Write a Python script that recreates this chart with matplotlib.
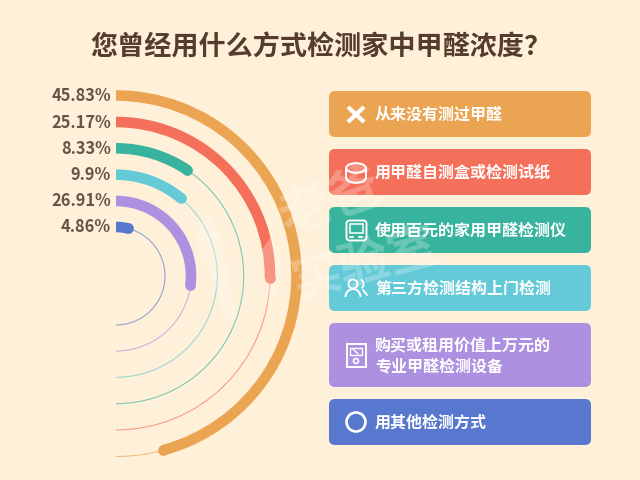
import numpy as np
import matplotlib
matplotlib.use('Agg')
import matplotlib.pyplot as plt
from matplotlib.patches import FancyBboxPatch, Circle, Rectangle, Ellipse, Arc, Polygon

plt.rcParams['font.family'] = ['Noto Sans CJK SC', 'DejaVu Sans']

title = '您曾经用什么方式检测家中甲醛浓度？'
labels = ['45.83%', '25.17%', '8.33%', '9.9%', '26.91%', '4.86%']
# sweep of each thick arc in degrees
sweeps = [165, 90.6, 34, 40, 97, 14]
radii = [180.5, 154, 127.7, 101.3, 75, 49]
colors = ['#eba452', '#f4705a', '#38b49e', '#65cad8', '#ae90e0', '#5878cf']
options = ['从来没有测过甲醛', '用甲醛自测盒或检测试纸', '使用百元的家用甲醛检测仪',
           '第三方检测结构上门检测', '购买或租用价值上万元的\n专业甲醛检测设备', '用其他检测方式']
card_top = [91, 149, 207, 265, 323, 399]
card_bot = [137, 195, 253, 311, 387, 445]

bg = '#fff0d9'
brown = '#6b5344'
W, H = 640, 480
cx, cy = 116, 276
rmax = 200

fig = plt.figure(figsize=(6.4, 4.8), dpi=100, facecolor=bg)

# polar axes centred on the rings, 1 data unit = 1 pixel
ax = fig.add_axes([(cx - rmax) / W, (H - cy - rmax) / H, 2 * rmax / W, 2 * rmax / H],
                  projection='polar', clip_on=False)
ax.set_theta_zero_location('N')
ax.set_theta_direction(-1)
ax.set_ylim(0, rmax)
ax.axis('off')
ax.patch.set_alpha(0)

for s, r, c in zip(sweeps, radii, colors):
    end = np.radians(s)
    ax.bar(end, 1.1, width=np.pi - end, bottom=r - 0.55, align='edge', color=c, alpha=0.65,
           linewidth=0, clip_on=False)
    ax.bar(0, 10.6, width=end, bottom=r - 5.3, align='edge', color=c, linewidth=0, clip_on=False)
    ax.scatter([end], [r], s=60, color=c, linewidths=0, clip_on=False, zorder=3)

# page overlay in pixel coords
ov = fig.add_axes([0, 0, 1, 1])
ov.set_xlim(0, W)
ov.set_ylim(H, 0)
ov.axis('off')
ov.patch.set_alpha(0)

ov.text(321, 47, title, ha='center', va='center', fontsize=19.5, fontweight='bold', color='#553c2b')

for lab, r in zip(labels, radii):
    ov.text(111, cy - r + 0.5, lab, ha='right', va='center', fontsize=11.8, fontweight='bold', color=brown)

for opt, t, b, c in zip(options, card_top, card_bot, colors):
    ov.add_patch(FancyBboxPatch((329 + 6, t + 6), 262 - 12, b - t - 12, boxstyle='round,pad=6,rounding_size=6',
                                facecolor=c, edgecolor='none'))
    ov.text(375, (t + b) / 2 + 0.5, opt, ha='left', va='center', fontsize=11.5, fontweight='bold',
            color='white', linespacing=1.42)

# icons
white = dict(color='white', lw=1.4, solid_capstyle='round')
ov.plot([348, 364], [107, 122], color='white', lw=3, solid_capstyle='butt')
ov.plot([348, 364], [122, 107], color='white', lw=3, solid_capstyle='butt')

ov.add_patch(Ellipse((356, 168), 19.5, 9.5, fill=False, ec='white', lw=1.5))
ov.add_patch(Arc((356, 178), 19.5, 9.5, theta1=0, theta2=180, ec='white', lw=1.5))
ov.plot([346.2, 346.2], [168, 178], **white)
ov.plot([365.8, 365.8], [168, 178], **white)

ov.add_patch(FancyBboxPatch((349, 223), 15, 15, boxstyle='round,pad=2.5,rounding_size=3', fill=False, ec='white', lw=1.4))
ov.add_patch(Rectangle((350, 224), 12.5, 9, fill=False, ec='white', lw=1.1))
ov.plot([350, 353], [236.5, 236.5], **white)
ov.plot([359, 362], [236.5, 236.5], **white)

ov.add_patch(Circle((353, 284), 4.5, fill=False, ec='white', lw=1.4))
ov.add_patch(Arc((353, 297), 15, 16, theta1=180, theta2=360, ec='white', lw=1.4))
ov.add_patch(Arc((360, 284), 7, 9, theta1=-80, theta2=70, ec='white', lw=1.3))
ov.plot([363, 367], [290, 295], **white)

ov.add_patch(Rectangle((346.5, 344), 19, 23, fill=False, ec='white', lw=1.4))
ov.add_patch(Rectangle((350, 348), 12, 7, fill=False, ec='white', lw=1))
ov.plot([353, 358], [349, 354], color='white', lw=1)
ov.add_patch(Circle((356, 361), 2.5, fill=False, ec='white', lw=1.2))

ov.add_patch(Circle((356, 422), 9.5, fill=False, ec='white', lw=1.9))

# faint watermark over everything
ov.text(330, 203, '老爸', ha='center', va='center', fontsize=38, fontweight='bold', color='white',
        alpha=0.25, rotation=20)
ov.text(365, 265, '实验室', ha='center', va='center', fontsize=36, fontweight='bold', color='white',
        alpha=0.25, rotation=15)
ov.add_patch(Polygon([(196, 232), (208, 212), (222, 240), (236, 320), (226, 322), (212, 275), (200, 262)],
                     facecolor='white', edgecolor='none', alpha=0.25))
ov.add_patch(Polygon([(262, 250), (272, 235), (282, 262), (272, 306), (268, 306)],
                     facecolor='white', edgecolor='none', alpha=0.25))

fig.savefig('out.png', dpi=100, facecolor=bg)
